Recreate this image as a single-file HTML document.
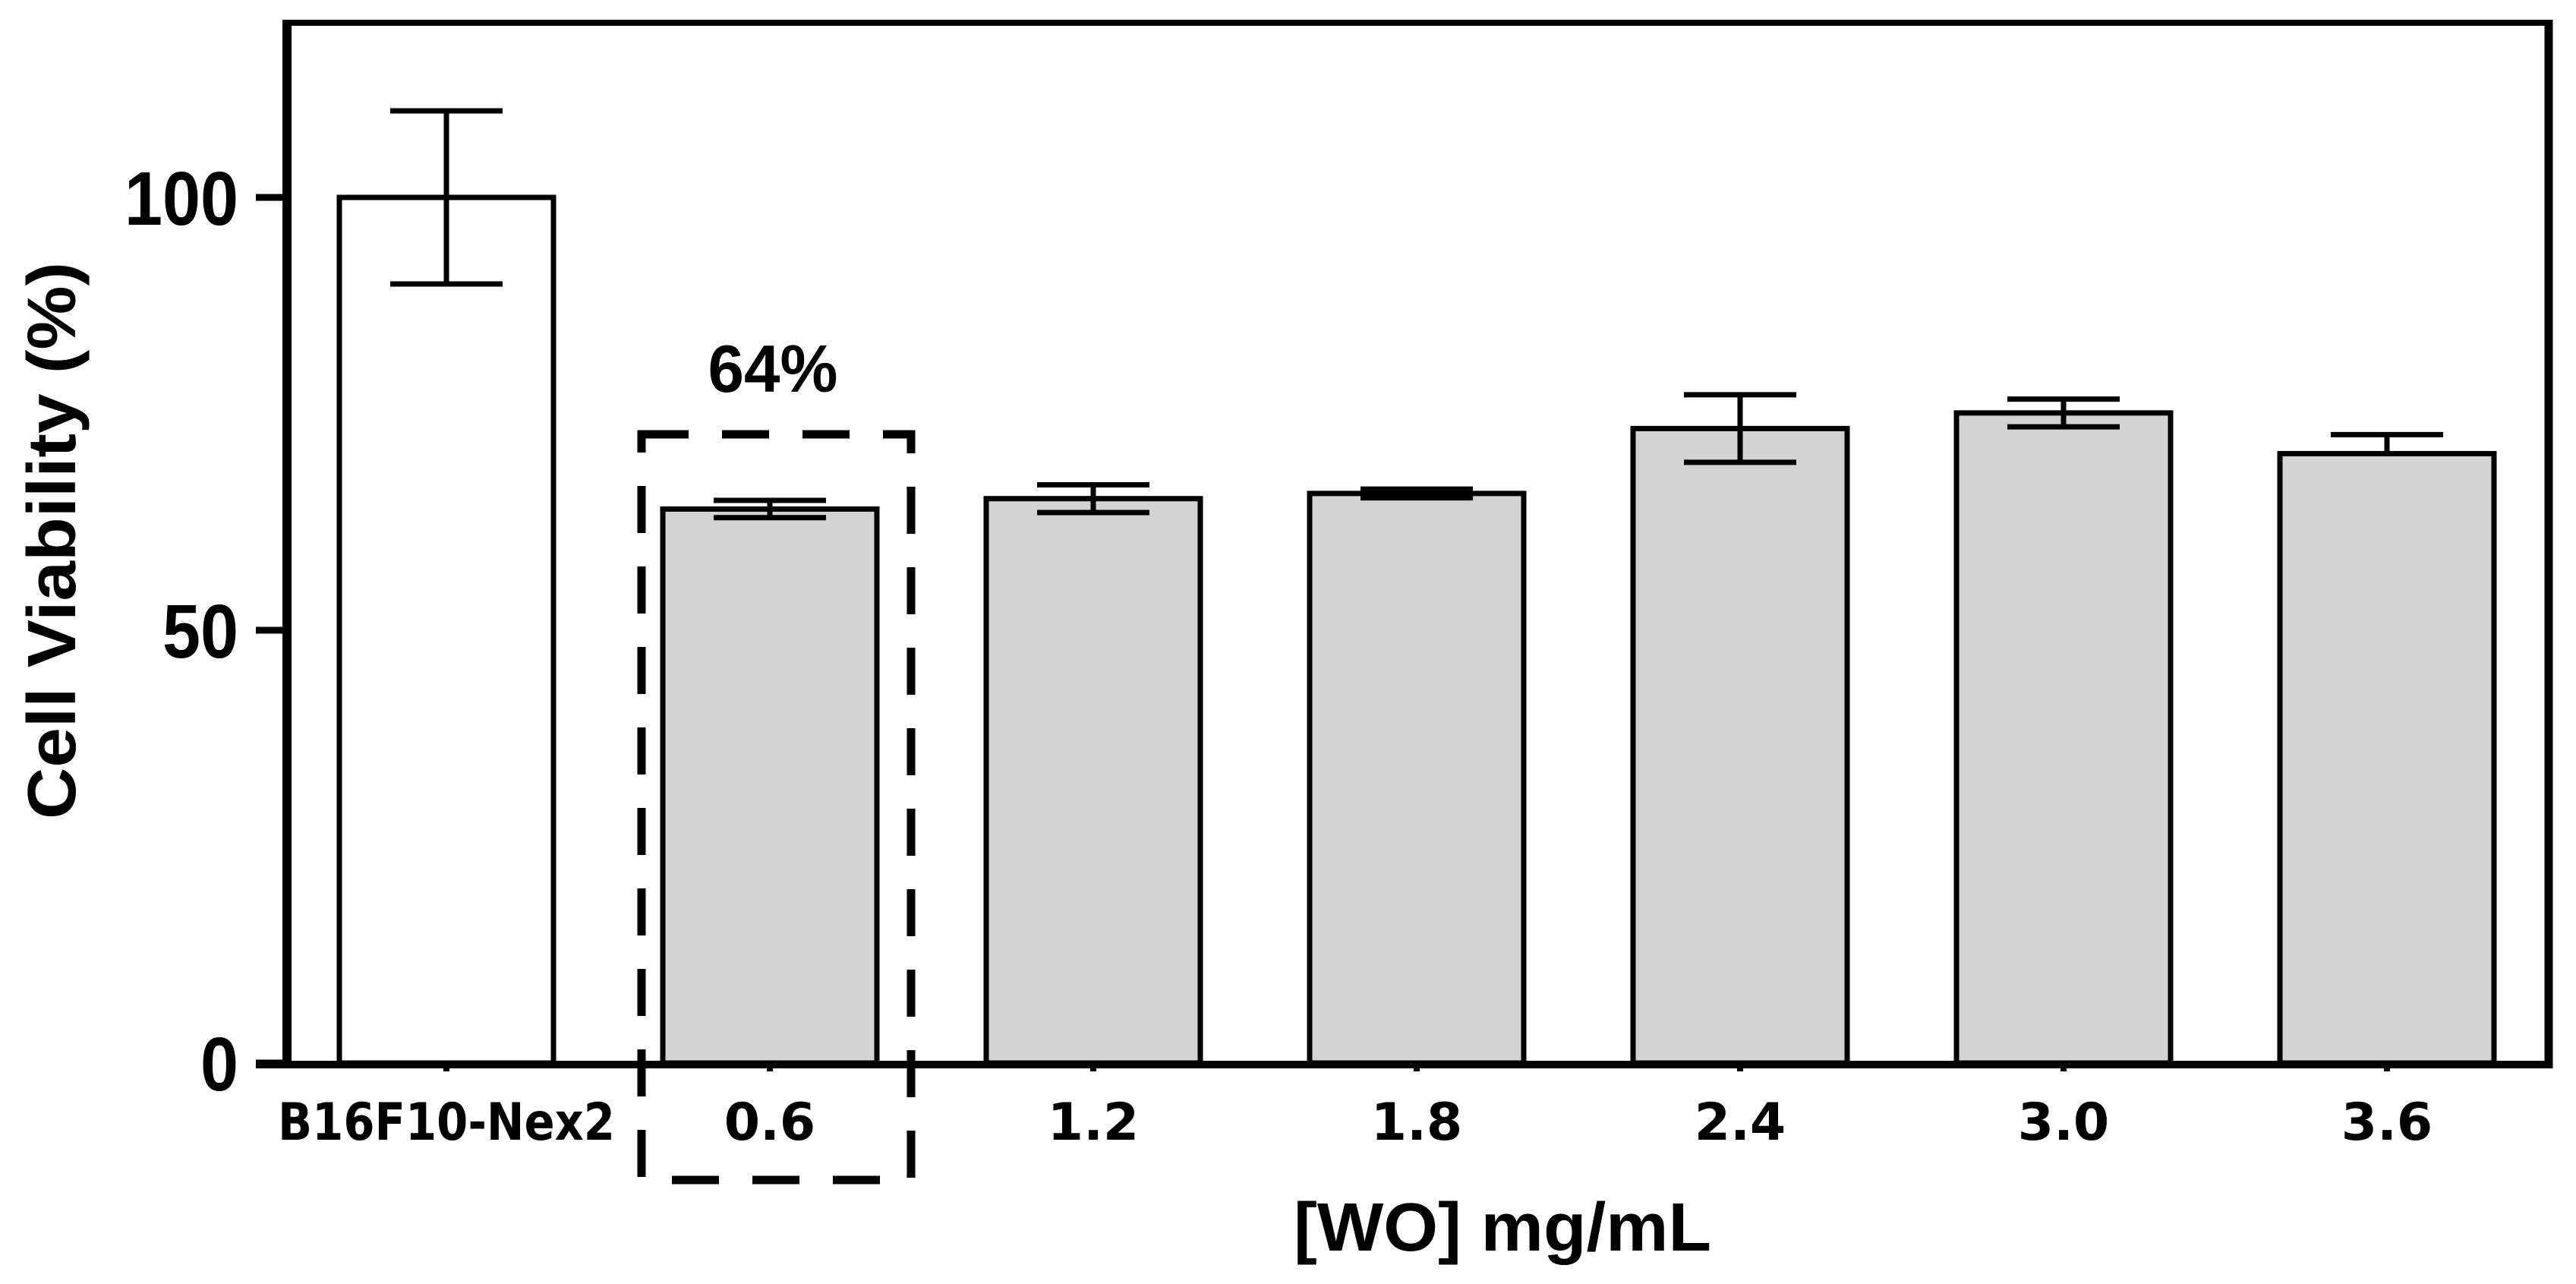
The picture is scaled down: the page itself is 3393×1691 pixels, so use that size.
<!DOCTYPE html>
<html><head><meta charset="utf-8"><style>
html,body{margin:0;padding:0;background:#fff;}
svg{display:block;}
</style></head><body>
<svg id="chart" width="3393" height="1691" viewBox="0 0 3393 1691" xmlns="http://www.w3.org/2000/svg">
<rect x="0" y="0" width="3393" height="1691" fill="#fff"/>
<g id="bars"></g>
<g id="axes"></g>
<text x="1979" y="1647" font-family="Liberation Sans, sans-serif" font-weight="bold" font-size="90" text-anchor="middle" textLength="550" lengthAdjust="spacingAndGlyphs">[WO] mg/mL</text>
<text transform="translate(99,712) rotate(-90)" font-family="Liberation Sans, sans-serif" font-weight="bold" font-size="90" text-anchor="middle" textLength="734" lengthAdjust="spacingAndGlyphs">Cell Viability (%)</text>
<text x="1018" y="516" font-family="Liberation Sans, sans-serif" font-weight="bold" font-size="88" text-anchor="middle" textLength="171" lengthAdjust="spacingAndGlyphs">64%</text>
<rect x="845" y="572" width="355" height="982" fill="none" stroke="#000" stroke-width="11" stroke-dasharray="62 44"/>
</svg>
<script>
const categories = ["B16F10-Nex2","0.6","1.2","1.8","2.4","3.0","3.6"];
const values = [100, 64, 65.2, 65.8, 73.3, 75.1, 70.4];
const upperErrors = [10, 1, 1.6, 0.5, 3.9, 1.6, 2.2];
const lowerErrors = [10, 1, 1.6, 0.5, 3.9, 1.6, 0];
const fills = ["#ffffff","#d3d3d3","#d3d3d3","#d3d3d3","#d3d3d3","#d3d3d3","#d3d3d3"];
const yTicks = [0, 50, 100];
const yTickLabels = ["0","50","100"];

const NS = "http://www.w3.org/2000/svg";
function yScale(v){ return 1400 - v * 11.4; }
function xScale(i){ return 588 + i * 426; }
const barW = 282, capHalf = 74;

function mk(tag, attrs, parent){
  const el = document.createElementNS(NS, tag);
  for (const k in attrs) el.setAttribute(k, attrs[k]);
  parent.appendChild(el);
  return el;
}
const bars = document.getElementById('bars');
const axes = document.getElementById('axes');

categories.forEach((c, i) => {
  const cx = xScale(i), top = yScale(values[i]);
  const r = mk('rect', {x: cx - barW/2, y: top, width: barW, height: yScale(0) - top, fill: fills[i], stroke: '#000', 'stroke-width': 7}, bars);
  
  
  const hi = yScale(values[i] + upperErrors[i]), lo = yScale(values[i] - lowerErrors[i]);
  let d = `M${cx},${hi}V${lo}M${cx-capHalf},${hi}H${cx+capHalf}`;
  if (lowerErrors[i] > 0) d += `M${cx-capHalf},${lo}H${cx+capHalf}`;
  const eb = mk('path', {d: d, stroke: '#000', 'stroke-width': 7, fill: 'none'}, bars);
  
  
  const t = mk('line', {x1: cx, y1: 1400, x2: cx, y2: 1411, stroke: '#000', 'stroke-width': 8}, axes);
  
  
  const lab = mk('text', {x: cx, y: 1501, 'font-family': 'DejaVu Sans, sans-serif', 'font-weight': 'bold', 'font-size': 68, 'text-anchor': 'middle'}, axes);
  if (i === 0) { lab.setAttribute('textLength', 444); lab.setAttribute('lengthAdjust', 'spacingAndGlyphs'); }
  lab.textContent = c;
  
  
});

const frame = mk('path', {d: 'M378,1402V30H3357V1402H378', stroke: '#000', 'stroke-width': 8, fill: 'none'}, axes);


const yAxis = mk('line', {x1: 378, y1: 26, x2: 378, y2: 1407, stroke: '#000', 'stroke-width': 12}, axes);


const xAxis = mk('line', {x1: 337, y1: 1402, x2: 3362, y2: 1402, stroke: '#000', 'stroke-width': 10}, axes);


const rAxis = mk('line', {x1: 3357, y1: 26, x2: 3357, y2: 1407, stroke: '#000', 'stroke-width': 11}, axes);



yTicks.forEach((v, i) => {
  const y = yScale(v);
  const t = mk('line', {x1: 337, y1: y, x2: 378, y2: y, stroke: '#000', 'stroke-width': 9}, axes);
  
  
  const lab = mk('text', {x: 314, y: y + 36, 'font-family': 'Liberation Sans, sans-serif', 'font-weight': 'bold', 'font-size': 100, 'text-anchor': 'end', 'textLength': yTickLabels[i].length * 50, 'lengthAdjust': 'spacingAndGlyphs'}, axes);
  lab.textContent = yTickLabels[i];
  
  
});
</script>
</body></html>
